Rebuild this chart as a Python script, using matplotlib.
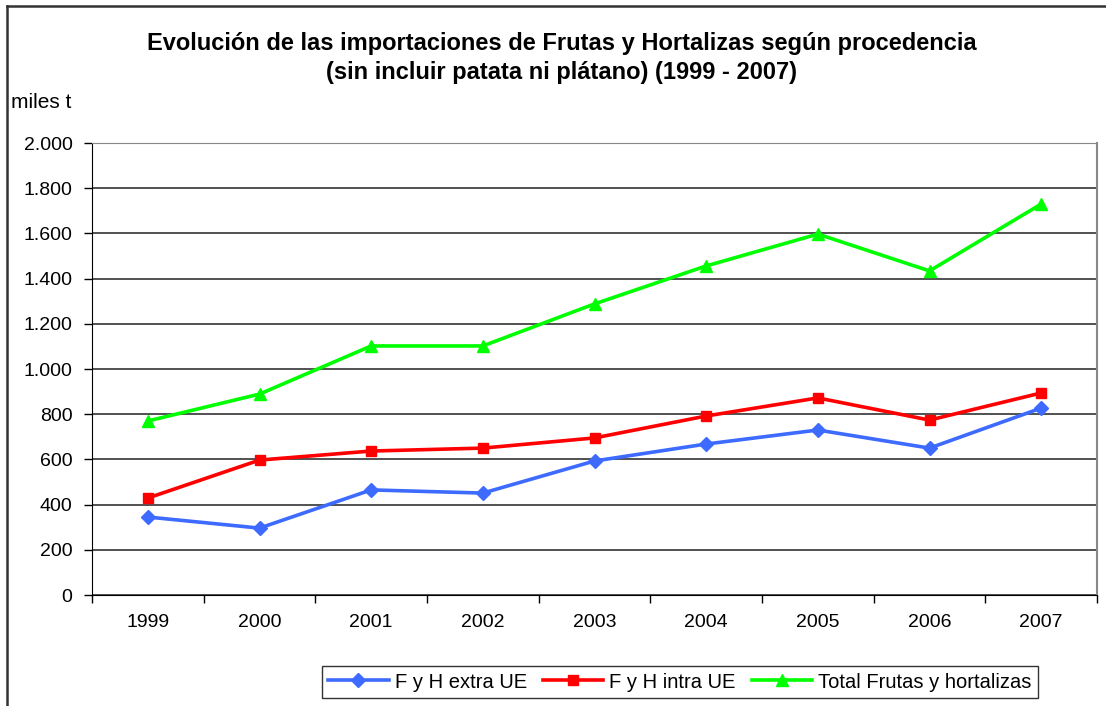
import numpy as np
import matplotlib.pyplot as plt
from matplotlib.lines import Line2D
from matplotlib.ticker import FuncFormatter, FixedLocator

plt.rcParams['font.family'] = ['Liberation Sans', 'DejaVu Sans']

anios = ['1999', '2000', '2001', '2002', '2003', '2004', '2005', '2006', '2007']
extra_ue = [345, 296, 465, 451, 593, 668, 730, 650, 827]
intra_ue = [429, 597, 637, 650, 695, 792, 872, 774, 894]
total_fh = [770, 889, 1102, 1102, 1288, 1456, 1597, 1434, 1730]

fig = plt.figure(figsize=(11.06, 7.06), dpi=100)
ax = fig.add_axes([92 / 1106, 1 - 595 / 706, (1097 - 92) / 1106, (595 - 143) / 706])

x = np.arange(len(anios))
ax.plot(x, extra_ue, color='#3d6bff', lw=2.6, marker='D', ms=7, label='F y H extra UE')
ax.plot(x, intra_ue, color='#ff0000', lw=2.6, marker='s', ms=7.5, label='F y H intra UE')
ax.plot(x, total_fh, color='#00ff00', lw=2.6, marker='^', ms=9, label='Total Frutas y hortalizas')

ax.set_xlim(-0.5, len(anios) - 0.5)
ax.set_ylim(0, 2000)
ax.set_yticks(np.arange(0, 2001, 200))
ax.yaxis.set_major_formatter(FuncFormatter(lambda v, p: f'{int(v):,}'.replace(',', '.')))
ax.grid(axis='y', color='#222222', lw=1.1)
ax.set_axisbelow(True)

ax.set_xticks(x)
ax.set_xticklabels(anios)
ax.xaxis.set_minor_locator(FixedLocator(np.arange(-0.5, len(anios), 1)))
ax.tick_params(axis='x', which='major', length=0, pad=14, labelsize=14)
ax.tick_params(axis='x', which='minor', length=6, direction='out', width=1)
ax.tick_params(axis='y', length=6, direction='out', width=1, pad=8, labelsize=14)

ax.spines['left'].set_color('black')
ax.spines['bottom'].set_color('black')
ax.spines['top'].set_color('#888888')
ax.spines['right'].set_color('#888888')
ax.spines['right'].set_linewidth(1.5)

fig.text(11 / 1106, 1 - 103 / 706, 'miles t', fontsize=15, va='center', ha='left')
fig.text(0.508, 1 - 58 / 706,
         'Evolución de las importaciones de Frutas y Hortalizas según procedencia\n'
         '(sin incluir patata ni plátano) (1999 - 2007)',
         fontsize=17, fontweight='bold', ha='center', va='center', linespacing=1.3)

leg = fig.legend(loc='center', bbox_to_anchor=(680 / 1106, 1 - 682 / 706), ncol=3,
                 fontsize=14.5, frameon=True, fancybox=False, edgecolor='black',
                 handlelength=3.0, handletextpad=0.3, columnspacing=0.8,
                 borderpad=0.3, markerscale=1.0)
leg.get_frame().set_linewidth(1.0)

# borde del gráfico
fig.add_artist(Line2D([7 / 1106, 7 / 1106], [0, 1 - 6 / 706], color='#333333', lw=1.8))
fig.add_artist(Line2D([7 / 1106, 1], [1 - 6 / 706, 1 - 6 / 706], color='#333333', lw=1.8))

fig.savefig('out.png', dpi=100)
